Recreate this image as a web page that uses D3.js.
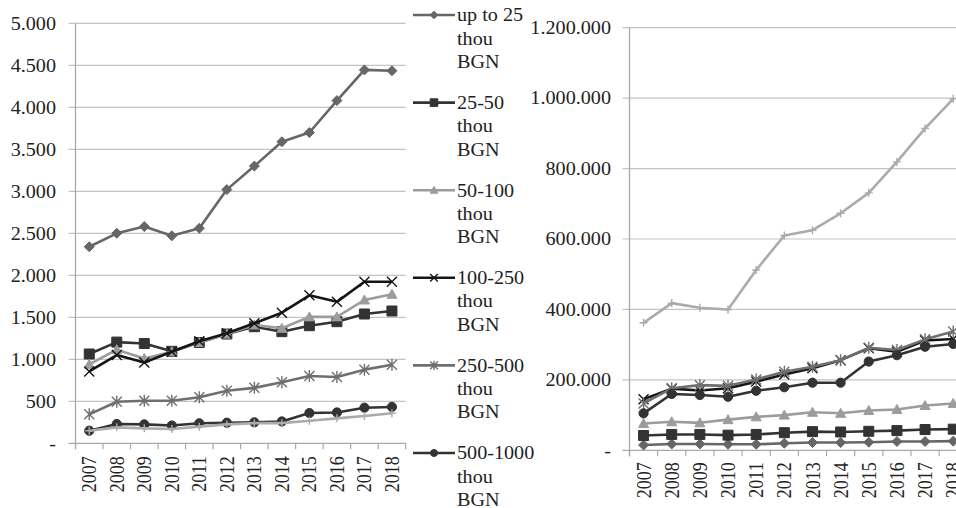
<!DOCTYPE html>
<html><head><meta charset="utf-8">
<script src="https://cdn.jsdelivr.net/npm/d3@7"></script>
<style>
html,body{margin:0;padding:0;background:#fff;}
svg{display:block;}
text{font-family:"Liberation Serif","Times New Roman",serif;fill:#222;}
</style></head>
<body>
<svg id="chart" width="956" height="508"></svg>
<script>
const years = ["2007","2008","2009","2010","2011","2012","2013","2014","2015","2016","2017","2018"];
const seriesLabels = [
  ["up to 25","thou","BGN"],
  ["25-50","thou","BGN"],
  ["50-100","thou","BGN"],
  ["100-250","thou","BGN"],
  ["250-500","thou","BGN"],
  ["500-1000","thou","BGN"],
  ["over 1000","thou","BGN"]
];
const leftTicks = [0,500,1000,1500,2000,2500,3000,3500,4000,4500,5000];
const rightTicks = [0,200000,400000,600000,800000,1000000,1200000];

// Left panel
const leftUpTo25   = [2340,2500,2580,2470,2560,3020,3300,3590,3700,4080,4445,4435];
const left25_50    = [1063,1205,1188,1095,1200,1301,1388,1329,1400,1448,1539,1575];
const left50_100   = [940,1115,1010,1090,1200,1300,1408,1369,1505,1505,1706,1774];
const left100_250  = [855,1051,962,1090,1215,1310,1428,1555,1762,1684,1924,1924];
const left250_500  = [345,495,507,507,548,626,660,726,801,790,877,936];
const left500_1000 = [150,230,225,212,238,245,250,260,360,367,424,433];
const leftOver1000 = [150,190,178,170,198,225,240,240,269,297,325,357];

// Right panel
const rightUpTo25   = [15000,18000,18000,17000,17000,20000,22000,22000,23000,25000,25000,26000];
const right25_50    = [42000,45000,45000,43000,45000,50000,53000,52000,54000,56000,59000,60000];
const right50_100   = [76000,81000,78000,87000,95000,100000,108000,105000,113000,116000,127000,133000];
const right100_250  = [145000,175000,170000,176000,195000,215000,233000,256000,290000,280000,312000,316000];
const right250_500  = [133000,176000,185000,183000,201000,223000,237000,256000,291000,285000,315000,337000];
const right500_1000 = [105000,160000,157000,152000,169000,179000,192000,192000,252000,270000,294000,302000];
const rightOver1000 = [362000,418000,405000,400000,512000,610000,625000,673000,731000,819000,914000,998000];

const leftSeries = [leftUpTo25,left25_50,left50_100,left100_250,left250_500,left500_1000,leftOver1000];
const rightSeries = [rightUpTo25,right25_50,right50_100,right100_250,right250_500,right500_1000,rightOver1000];

const colors = ["#666666","#333333","#9c9c9c","#151515","#6f6f6f","#333333","#ababab"];
const markers = ["diamond","square","triangle","x","asterisk","circle","plus"];

const svg = d3.select("#chart");
const loc = d3.formatLocale({decimal:",",thousands:".",grouping:[3],currency:["",""]});
const fmt = v => v === 0 ? "-" : loc.format(",")(v);
const SX = 1.12;

function markerPath(type, r){
  switch(type){
    case "diamond": return `M0,${-r}L${r},0L0,${r}L${-r},0Z`;
    case "square": return `M${-r},${-r}H${r}V${r}H${-r}Z`;
    case "triangle": return `M0,${-r}L${r},${r*0.8}L${-r},${r*0.8}Z`;
    case "x": return `M${-r},${-r}L${r},${r}M${-r},${r}L${r},${-r}`;
    case "asterisk": return `M${-r},${-r}L${r},${r}M${-r},${r}L${r},${-r}M0,${-r*1.2}V${r*1.2}`;
    case "plus": return `M${-r},0H${r}M0,${-r}V${r}`;
  }
}
function drawMarker(g, type, color, r){
  if(type === "circle"){
    g.append("circle").attr("r", r).attr("fill", color).attr("stroke", color).attr("stroke-width",1);
  } else if(type === "x" || type === "asterisk" || type === "plus"){
    g.append("path").attr("d", markerPath(type, r)).attr("fill","none").attr("stroke", color).attr("stroke-width",1.4);
  } else {
    g.append("path").attr("d", markerPath(type, r)).attr("fill", color).attr("stroke", color).attr("stroke-width",1);
  }
}

function panel(cfg){
  const x = d3.scaleBand().domain(years).range([cfg.x0, cfg.x1]);
  const y = d3.scaleLinear().domain([0, cfg.max]).range([cfg.y0, cfg.y1]);
  const g = svg.append("g");
  g.selectAll("line.grid").data(cfg.ticks.filter(t=>t>0)).enter().append("line")
    .attr("x1", cfg.x0 - 7).attr("x2", cfg.x1).attr("y1", d=>y(d)).attr("y2", d=>y(d))
    .attr("stroke","#c4c4c4").attr("stroke-width",1.2);
  g.append("line").attr("x1",cfg.x0).attr("x2",cfg.x0).attr("y1",y(cfg.max)).attr("y2",y(0)+6)
    .attr("stroke","#a9a9a9").attr("stroke-width",1.3);
  g.append("line").attr("x1",cfg.x0-7).attr("x2",cfg.x1).attr("y1",y(0)).attr("y2",y(0))
    .attr("stroke","#a9a9a9").attr("stroke-width",1.3);
  const bounds = years.map(d=>x(d)).concat([x(years[years.length-1])+x.bandwidth()]);
  g.selectAll("line.xt").data(bounds).enter().append("line")
    .attr("x1",d=>d).attr("x2",d=>d).attr("y1",y(0)).attr("y2",y(0)+6)
    .attr("stroke","#a9a9a9").attr("stroke-width",1.2);
  g.selectAll("text.yl").data(cfg.ticks).enter().append("text")
    .attr("transform", d=>`translate(${cfg.labelX},${y(d)}) scale(${SX},1)`)
    .attr("text-anchor","end").attr("dy","0.35em").attr("font-size",18)
    .text(d=>fmt(d));
  g.selectAll("text.xl").data(years).enter().append("text")
    .attr("transform", d=>`translate(${x(d)+x.bandwidth()/2},${y(0)+cfg.xlabGap}) scale(${SX},1) rotate(-90)`)
    .attr("text-anchor","end").attr("dy","0.35em").attr("font-size",18)
    .text(d=>d);
  const line = d3.line().x((d,i)=>x(years[i])+x.bandwidth()/2).y(d=>y(d));
  cfg.series.forEach((vals, si)=>{
    const sg = g.append("g");
    sg.append("path").datum(vals).attr("d", line).attr("fill","none")
      .attr("stroke", colors[si]).attr("stroke-width",2.6).attr("stroke-linejoin","round");
    vals.forEach((v,i)=>{
      const mg = sg.append("g").attr("transform",`translate(${x(years[i])+x.bandwidth()/2},${y(v)})`);
      const r = markers[si]==="plus" ? 4 : (markers[si]==="circle" ? 4.6 : 5);
      drawMarker(mg, markers[si], colors[si], r);
    });
  });
}

panel({x0:75.5, x1:405.7, y0:443.3, y1:23.3, max:5000, ticks:leftTicks, labelX:56, xlabGap:13, series:leftSeries});
panel({x0:629.5, x1:967.3, y0:450.3, y1:27.7, max:1200000, ticks:rightTicks, labelX:611, xlabGap:12, series:rightSeries});

// legend: only entries that fall inside the frame are drawn (as in the reference)
const lg = svg.append("g");
seriesLabels.forEach((lines, i)=>{
  const yy = 15 + i*87.6;
  if (yy > 490) return;
  const eg = lg.append("g");
  eg.append("line").attr("x1",413).attr("x2",455).attr("y1",yy).attr("y2",yy)
    .attr("stroke",colors[i]).attr("stroke-width",2.6);
  const mg = eg.append("g").attr("transform",`translate(434,${yy})`);
  drawMarker(mg, markers[i], colors[i], markers[i]==="circle"?3.5:3.8);
  lines.forEach((t,j)=>{
    eg.append("text").attr("transform",`translate(457,${yy + j*23.3}) scale(${SX},1)`)
      .attr("dy","0.35em").attr("font-size",18).text(t);
  });
});
</script>
</body></html>
